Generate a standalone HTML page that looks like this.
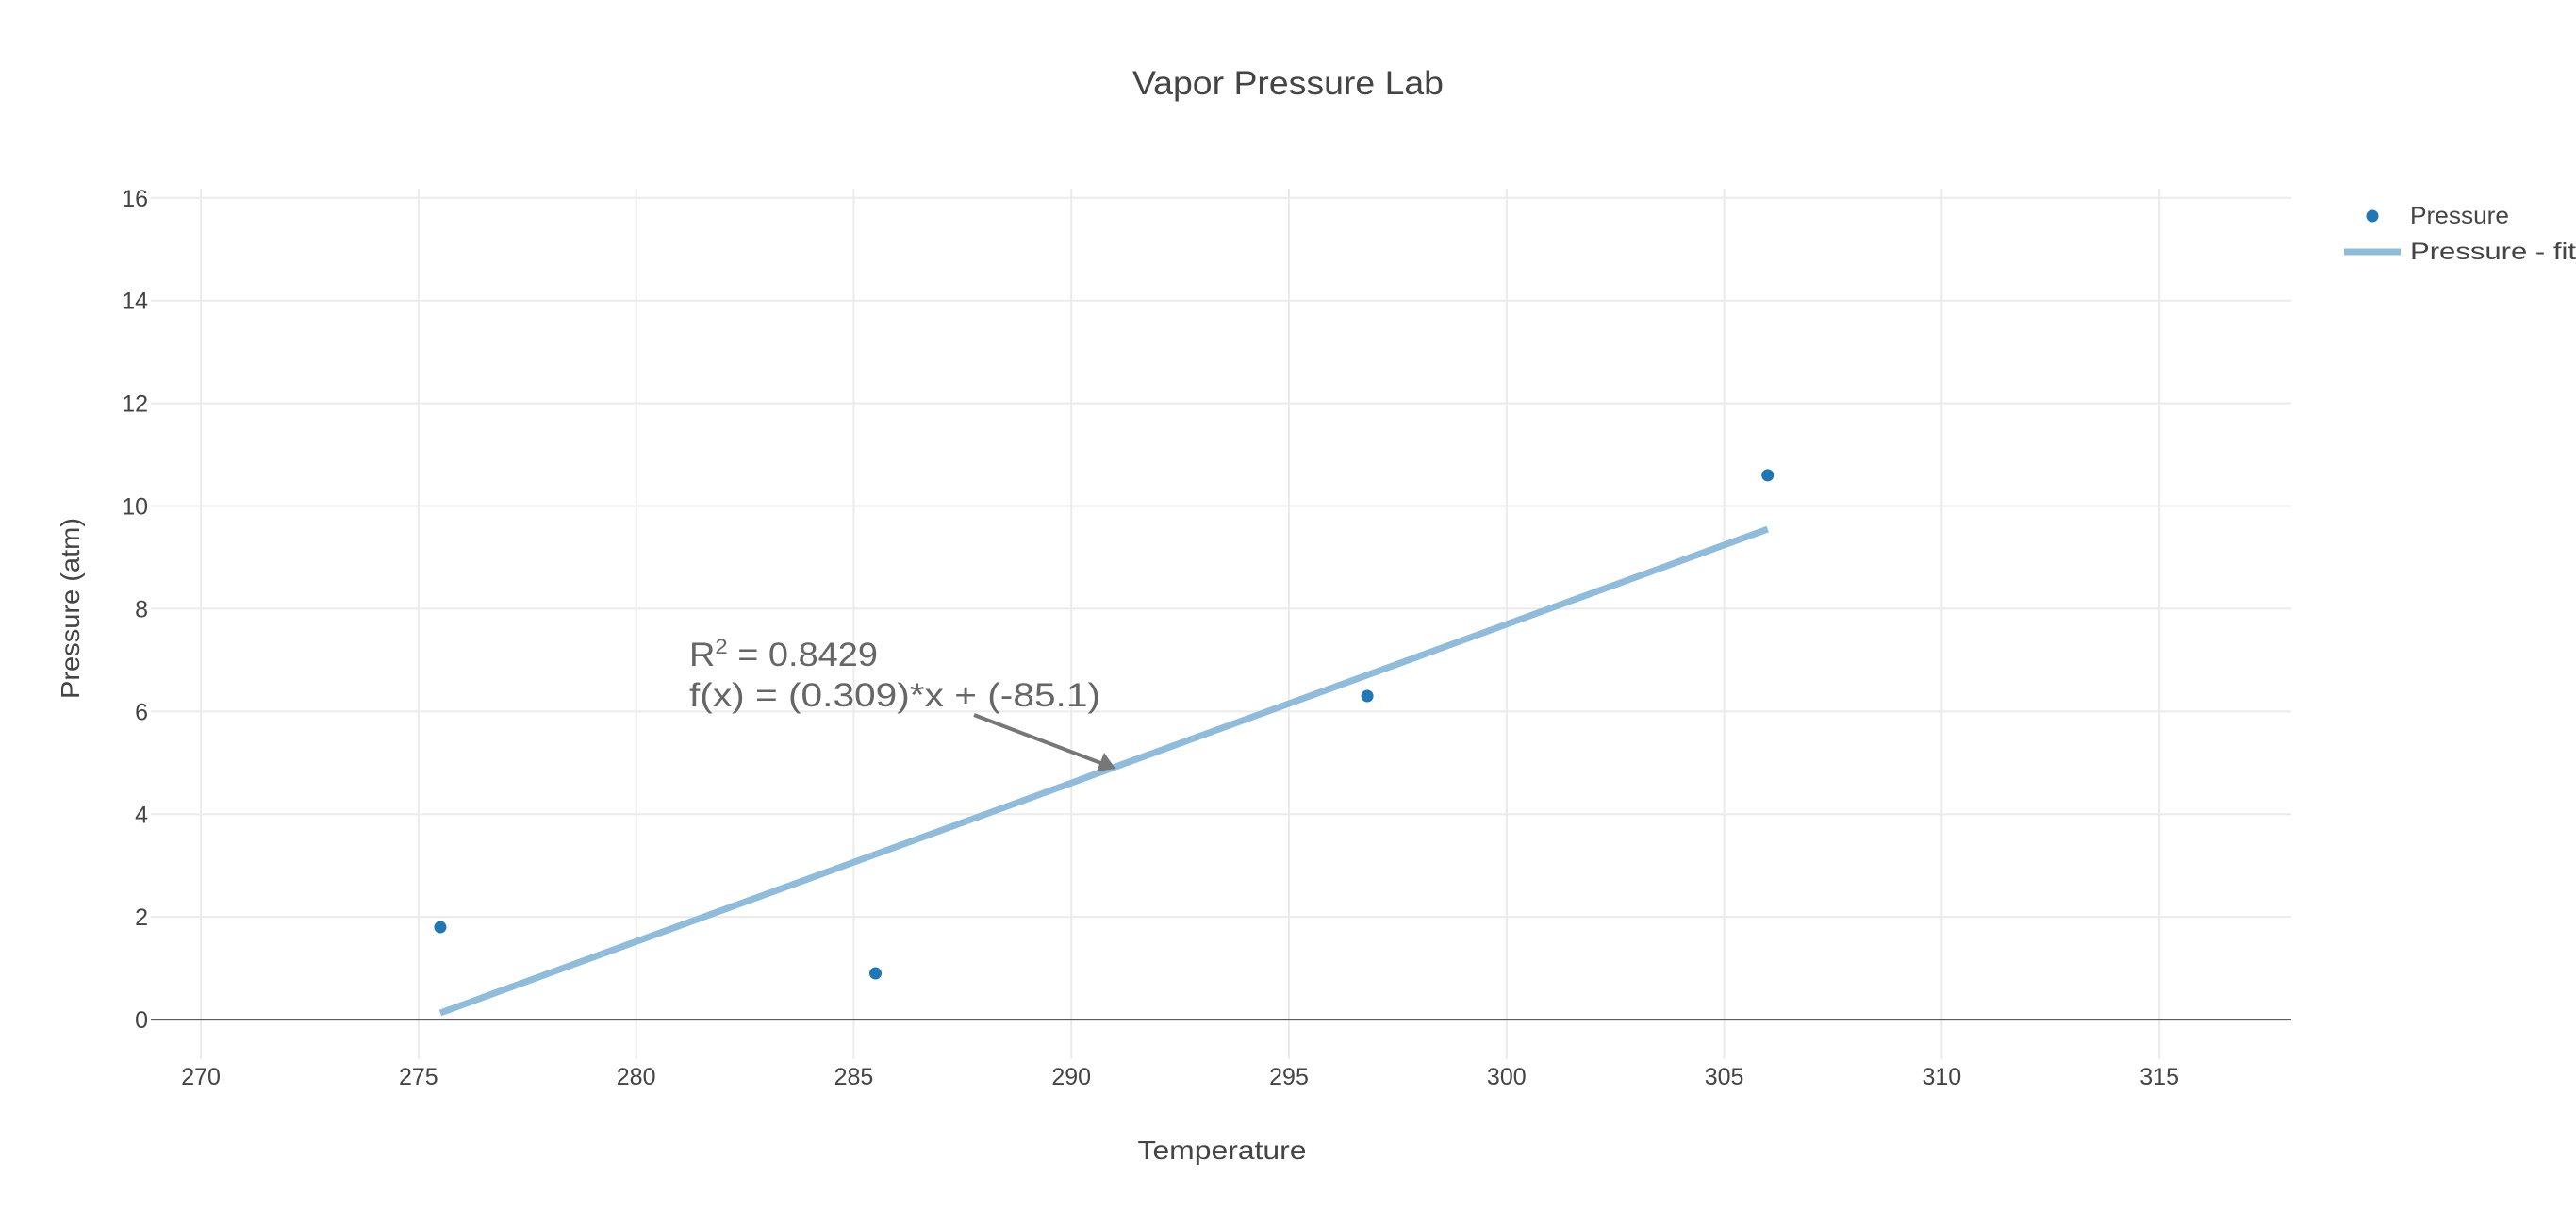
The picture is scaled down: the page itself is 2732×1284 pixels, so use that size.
<!DOCTYPE html>
<html><head><meta charset="utf-8"><style>
html,body{margin:0;padding:0;background:#fff;}
svg{display:block;font-family:"Liberation Sans",sans-serif;}
</style></head><body>
<svg id="chart" width="2732" height="1284" viewBox="0 0 2732 1284" xmlns="http://www.w3.org/2000/svg">
<text x="1366" y="100" text-anchor="middle" font-size="35" fill="#444" textLength="330" lengthAdjust="spacingAndGlyphs">Vapor Pressure Lab</text>
<g id="grid"></g>
<g id="axes"></g>
<g id="marks"></g>
<g>
<text x="731" y="706" font-size="35" fill="#666" textLength="200" lengthAdjust="spacingAndGlyphs">R<tspan font-size="22" dy="-13">2</tspan><tspan dy="13"> = 0.8429</tspan></text>
<text x="731" y="749" font-size="35" fill="#666" textLength="436" lengthAdjust="spacingAndGlyphs">f(x) = (0.309)*x + (-85.1)</text>
<line x1="1033" y1="758" x2="1170" y2="810" stroke="#777" stroke-width="4"/>
<polygon points="1183,815 1163,818 1171,798" fill="#777"/>
</g>
<g>
<g>
<circle cx="2516" cy="229" r="6.5" fill="#1f77b4"/>
<text x="2556" y="237" font-size="25" fill="#444" textLength="105" lengthAdjust="spacingAndGlyphs">Pressure</text>
</g>
<g>
<line x1="2486" y1="267" x2="2546" y2="267" stroke="#8fbcdb" stroke-width="7"/>
<text x="2556" y="275" font-size="25" fill="#444" textLength="176" lengthAdjust="spacingAndGlyphs">Pressure - fit</text>
</g>
</g>
<text x="1296" y="1229" text-anchor="middle" font-size="28" fill="#444" textLength="179" lengthAdjust="spacingAndGlyphs">Temperature</text>
<text transform="translate(84,645) rotate(-90)" text-anchor="middle" font-size="28" fill="#444" textLength="192" lengthAdjust="spacingAndGlyphs">Pressure (atm)</text>
</svg>
<script>
const xTicks = [270,275,280,285,290,295,300,305,310,315];
const yTicks = [0,2,4,6,8,10,12,14,16];
const temps = [275.5,285.5,296.8,306];
const pressures = [1.8,0.9,6.3,10.6];
const fitTemps = [275.5,306];
const fitPressures = [0.13,9.55];

const L=160,R=2430,T=200,B=1123;
const xMin=268.85,xMax=318.03,yMin=-0.77,yMax=16.18;
function sx(v){return L+(v-xMin)/(xMax-xMin)*(R-L);}
function sy(v){return B-(v-yMin)/(yMax-yMin)*(B-T);}
const NS="http://www.w3.org/2000/svg";
function mk(tag,attrs,parent){const e=document.createElementNS(NS,tag);for(const k in attrs)e.setAttribute(k,attrs[k]);parent.appendChild(e);return e;}
const grid=document.getElementById('grid'),axes=document.getElementById('axes'),marks=document.getElementById('marks');
xTicks.forEach(t=>{
  const g=mk('line',{x1:sx(t),x2:sx(t),y1:T,y2:B,stroke:'#ebebeb','stroke-width':2},grid);
  
  
  const l=mk('text',{x:sx(t),y:1150,'text-anchor':'middle','font-size':25,fill:'#444'},axes);
  l.textContent=t;
  
  
});
yTicks.forEach(t=>{
  if(t!==0){
    const g=mk('line',{x1:L,x2:R,y1:sy(t),y2:sy(t),stroke:'#ebebeb','stroke-width':2},grid);
    
    
  }
  const l=mk('text',{x:157,y:sy(t)+9,'text-anchor':'end','font-size':25,fill:'#444'},axes);
  l.textContent=t;
  
  
});
const z=mk('line',{x1:L,x2:R,y1:sy(0),y2:sy(0),stroke:'#444','stroke-width':2},axes);


const fit=mk('line',{x1:sx(fitTemps[0]),y1:sy(fitPressures[0]),x2:sx(fitTemps[1]),y2:sy(fitPressures[1]),stroke:'#8fbcdb','stroke-width':7},marks);


temps.forEach((t,i)=>{
  const c=mk('circle',{cx:sx(t),cy:sy(pressures[i]),r:6.5,fill:'#1f77b4'},marks);
  
  
});
</script>
</body></html>
